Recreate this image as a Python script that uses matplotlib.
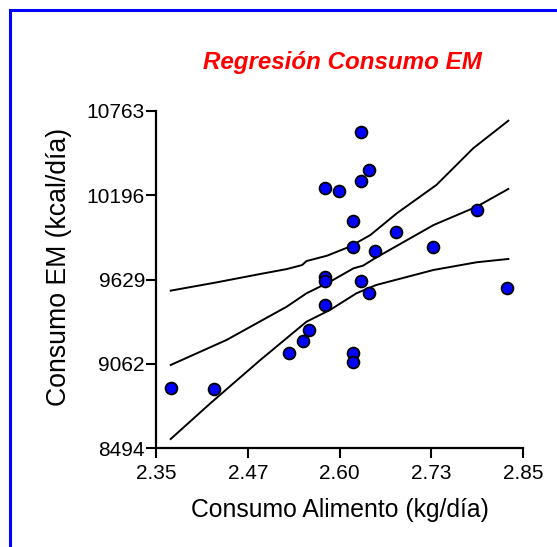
import numpy as np
import matplotlib
matplotlib.use('Agg')
import matplotlib.pyplot as plt
from matplotlib.patches import Rectangle

plt.rcParams['font.family'] = ['Liberation Sans', 'DejaVu Sans']

# data points (consumo alimento kg/dia, consumo EM kcal/dia)
alimento = [2.629, 2.640, 2.629, 2.580, 2.599, 2.618, 2.677, 2.787, 2.618, 2.648,
            2.727, 2.580, 2.580, 2.629, 2.640, 2.828, 2.580, 2.558, 2.550, 2.531,
            2.618, 2.618, 2.370, 2.429]
em = [10624, 10369, 10290, 10247, 10223, 10021, 9951, 10099, 9846, 9820,
      9846, 9647, 9620, 9618, 9537, 9575, 9456, 9292, 9214, 9133,
      9133, 9077, 8902, 8891]

# regression line and confidence bands
reg_x = [2.370, 2.446, 2.528, 2.555, 2.587, 2.619, 2.632, 2.648, 2.728, 2.787, 2.830]
reg_y = [9055, 9223, 9447, 9537, 9615, 9705, 9723, 9772, 9996, 10120, 10239]
up_x = [2.370, 2.433, 2.492, 2.528, 2.549, 2.555, 2.583, 2.614, 2.642, 2.678, 2.732, 2.782, 2.830]
up_y = [9555, 9611, 9667, 9700, 9727, 9754, 9790, 9851, 9929, 10075, 10266, 10512, 10698]
lo_x = [2.370, 2.424, 2.492, 2.555, 2.587, 2.623, 2.650, 2.728, 2.787, 2.830]
lo_y = [8557, 8797, 9088, 9346, 9425, 9537, 9593, 9694, 9746, 9768]

xticks = [2.35, 2.475, 2.60, 2.725, 2.85]
xlabels = ['2.35', '2.47', '2.60', '2.73', '2.85']
yticks = [8494.4, 9061.65, 9628.9, 10196.15, 10763.4]
ylabels = ['8494', '9062', '9629', '10196', '10763']

fig = plt.figure(figsize=(5.57, 5.47), dpi=100)
ax = fig.add_axes([0.2801, 0.1804, 0.6589, 0.6167])

ax.plot(reg_x, reg_y, color='black', lw=1.4)
ax.plot(up_x, up_y, color='black', lw=1.4)
ax.plot(lo_x, lo_y, color='black', lw=1.4)
ax.plot(alimento, em, 'o', color='#0000ff', markeredgecolor='black',
        markeredgewidth=1.3, markersize=8.5, clip_on=False, zorder=3)

ax.set_xlim(2.35, 2.85)
ax.set_ylim(8494.4, 10763.4)
ax.set_xticks(xticks)
ax.set_xticklabels(xlabels)
ax.set_yticks(yticks)
ax.set_yticklabels(ylabels)

for s in ['top', 'right']:
    ax.spines[s].set_visible(False)
for s in ['left', 'bottom']:
    ax.spines[s].set_linewidth(1.6)
ax.tick_params(direction='out', length=7, width=1.5, labelsize=15)
ax.tick_params(axis='y', pad=1)
ax.tick_params(axis='x', pad=4)

ax.set_xlabel('Consumo Alimento (kg/día)', fontsize=17.8)
ax.xaxis.set_label_coords(0.501, -0.147)
ax.set_ylabel('Consumo EM (kcal/día)', fontsize=19.2, va='center')
ax.yaxis.set_label_coords(-0.264, 0.539)

fig.text(0.614, 0.885, 'Regresión Consumo EM', color='#ff0000', fontsize=17.4,
         fontweight='bold', fontstyle='italic', ha='center', va='center')

# blue frame around the figure
fig.patches.append(Rectangle((10 / 557, -0.1), 1.2, 1.1 - 10 / 547,
                             transform=fig.transFigure, fill=False,
                             edgecolor='#0000ff', lw=2.2))

plt.savefig('out.png', dpi=100)
